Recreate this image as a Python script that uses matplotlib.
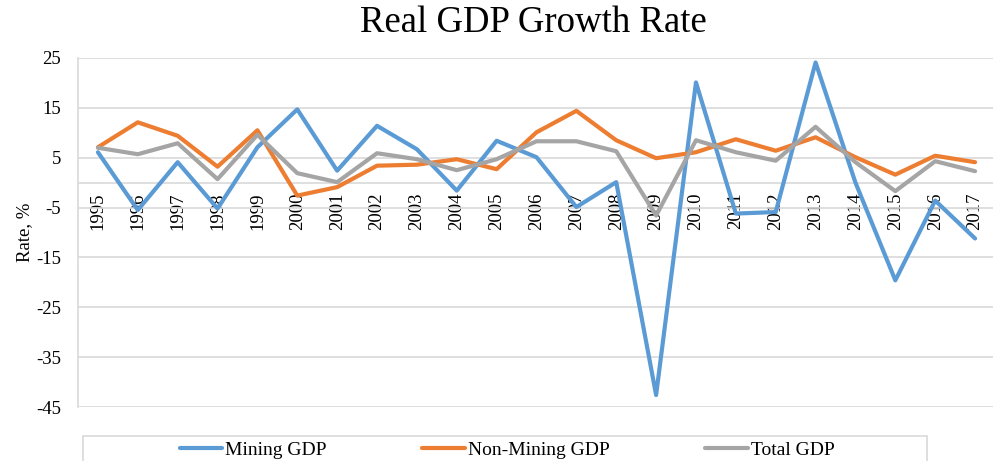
import numpy as np
import matplotlib
matplotlib.use("Agg")
import matplotlib.pyplot as plt
from matplotlib.patches import Rectangle

plt.rcParams['font.family'] = ['Liberation Serif', 'DejaVu Serif']

# data
years = [str(y) for y in range(1995, 2018)]
mining = [6.1, -5.5, 4.1, -5.2, 7.1, 14.7, 2.4, 11.4, 6.7, -1.6, 8.4, 5.1,
          -4.9, 0.1, -42.6, 20.1, -6.2, -5.9, 24.1, 0.0, -19.6, -3.6, -11.2]
non_mining = [7.1, 12.1, 9.4, 3.2, 10.5, -2.6, -0.9, 3.4, 3.6, 4.7, 2.7, 10.1,
              14.4, 8.5, 4.9, 6.1, 8.7, 6.4, 9.1, 5.1, 1.6, 5.4, 4.1]
total = [7.0, 5.7, 7.9, 0.7, 9.6, 1.9, 0.1, 5.9, 4.7, 2.5, 4.7, 8.3,
         8.3, 6.3, -6.6, 8.5, 6.1, 4.4, 11.2, 4.1, -1.7, 4.3, 2.3]
y_ticks = [25, 15, 5, -5, -15, -25, -35, -45]

grid_c = '#D9D9D9'
W, H = 993, 461

fig = plt.figure(figsize=(W / 100, H / 100), dpi=100)
ax = fig.add_axes([78 / W, 1 - 407 / H, (995 - 78) / W, (407 - 58) / H])

x = np.arange(len(years))
style = dict(lw=3, solid_joinstyle='round', solid_capstyle='round')
l1, = ax.plot(x, mining, color='#5B9BD5', label='Mining GDP', zorder=3, **style)
l2, = ax.plot(x, non_mining, color='#ED7D31', label='Non-Mining GDP', zorder=3, **style)
l3, = ax.plot(x, total, color='#A5A5A5', label='Total GDP', zorder=3, **style)

ax.set_xlim(-0.5, len(years) - 0.5)
ax.set_ylim(-45, 25)
ax.set_yticks(y_ticks)
ax.set_yticklabels([str(v) for v in y_ticks], fontsize=13.5)
ax.yaxis.grid(True, color=grid_c, lw=1.2)
ax.set_axisbelow(True)

# category axis crosses at zero
ax.spines['bottom'].set_position(('data', 0))
ax.spines['bottom'].set_color(grid_c)
ax.spines['bottom'].set_linewidth(1.2)
ax.spines['left'].set_color(grid_c)
ax.spines['left'].set_linewidth(1.2)
ax.spines['top'].set_visible(False)
ax.spines['right'].set_visible(False)
ax.set_xticks(x)
ax.set_xticklabels(years, rotation=90, fontsize=13.5)
ax.tick_params(axis='x', length=0, pad=7)
ax.tick_params(axis='y', length=0, pad=12)

fig.text(533 / W, 1 - 23 / H, 'Real GDP Growth Rate', fontsize=26.5,
         ha='center', va='center')
fig.text(25 / W, 1 - 232 / H, 'Rate, %', fontsize=13.5, rotation=90,
         ha='center', va='center')

# legend frame runs off the bottom edge like in the original
fig.patches.append(Rectangle((83 / W, -0.1), (927 - 83) / W, 0.1 + (461 - 436) / H,
                             transform=fig.transFigure, fill=False,
                             edgecolor=grid_c, lw=1.2))
fig.legend(handles=[l1, l2, l3], loc='center', bbox_to_anchor=(507 / W, 1 - 450 / H),
           ncol=3, frameon=False, fontsize=14, handlelength=2.2,
           handletextpad=0.15, columnspacing=4.9, borderaxespad=0)

fig.savefig('out.png', dpi=100)
